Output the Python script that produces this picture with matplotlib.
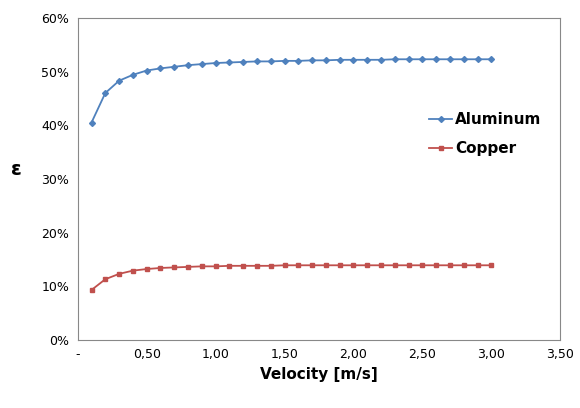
import matplotlib
matplotlib.use("Agg")
import matplotlib.pyplot as plt
from matplotlib.ticker import FuncFormatter

velocity = [round(0.1*i, 1) for i in range(1, 31)]
aluminum = [40.5, 46.0, 48.3, 49.4, 50.2, 50.6, 50.9, 51.2, 51.4, 51.6, 51.7, 51.8, 51.9, 51.9, 52.0,
            52.0, 52.1, 52.1, 52.2, 52.2, 52.2, 52.2, 52.3, 52.3, 52.3, 52.3, 52.3, 52.3, 52.3, 52.3]
copper = [9.3, 11.3, 12.3, 12.9, 13.2, 13.4, 13.5, 13.6, 13.7, 13.7, 13.8, 13.8, 13.8, 13.8, 13.9,
          13.9, 13.9, 13.9, 13.9, 13.9, 13.9, 13.9, 13.9, 13.9, 13.9, 13.9, 13.9, 13.9, 13.9, 13.9]

fig = plt.figure(figsize=(5.8, 4.08), dpi=100)
ax = fig.add_axes([0.134, 0.167, 0.832, 0.789])
ax.plot(velocity, aluminum, color='#4F81BD', marker='D', markersize=3, lw=1.3, label='Aluminum')
ax.plot(velocity, copper, color='#C0504D', marker='s', markersize=3.5, lw=1.3, label='Copper')
ax.set_xlim(0, 3.5)
ax.set_ylim(0, 60)
ax.set_xticks([0, 0.5, 1, 1.5, 2, 2.5, 3, 3.5])
ax.xaxis.set_major_formatter(FuncFormatter(lambda v, p: '-' if v == 0 else f'{v:.2f}'.replace('.', ',')))
ax.set_yticks(range(0, 61, 10))
ax.yaxis.set_major_formatter(FuncFormatter(lambda v, p: f'{v:.0f}%'))
ax.tick_params(labelsize=9, length=0, pad=6)
ax.grid(False)
for s in ax.spines.values():
    s.set_color('#888888')
ax.set_xlabel('Velocity [m/s]', fontsize=11, fontweight='bold')
ax.set_ylabel('ε', fontsize=14, fontweight='bold', rotation=0, labelpad=18)
ax.legend(loc='upper left', bbox_to_anchor=(0.7, 0.75), frameon=False,
          prop={'weight': 'bold', 'size': 11}, handlelength=1.5, handletextpad=0.2, labelspacing=0.9)
fig.savefig('out.png')
